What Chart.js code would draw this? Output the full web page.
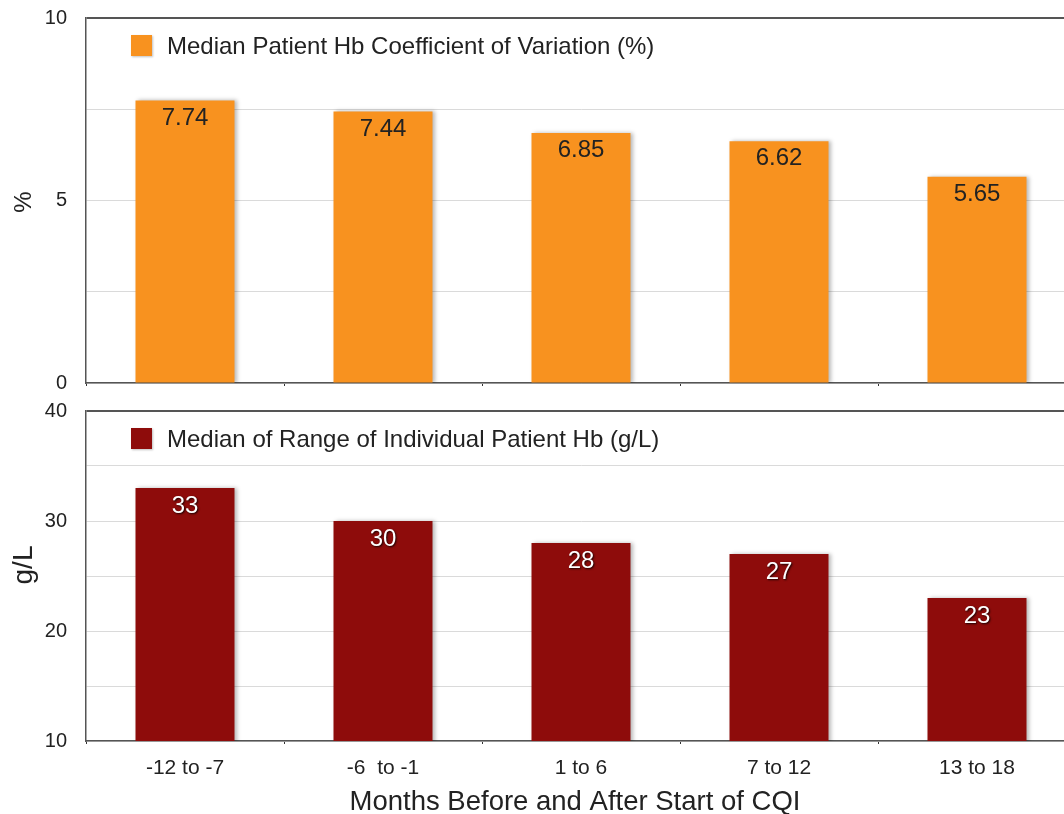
<!DOCTYPE html>
<html><head><meta charset="utf-8">
<script src="https://cdn.jsdelivr.net/npm/chart.js@4.4.1/dist/chart.umd.min.js"></script>
<style>
html,body{margin:0;padding:0;background:#fff;overflow:hidden;width:1064px;height:814px;}
#wrap{position:relative;width:1064px;height:814px;overflow:hidden;background:#fff;}
canvas{position:absolute;left:0;}
#c1{top:0;} #c2{top:395px;}
</style></head><body>
<div id="wrap"><canvas id="c1" width="1080" height="395"></canvas><canvas id="c2" width="1080" height="419"></canvas></div>
<script>
const categories = ['-12 to -7', '-6  to -1', '1 to 6', '7 to 12', '13 to 18'];
const cvValues = [7.74, 7.44, 6.85, 6.62, 5.65];
const cvLabels = ['7.74', '7.44', '6.85', '6.62', '5.65'];
const rangeValues = [33, 30, 28, 27, 23];
const rangeLabels = ['33', '30', '28', '27', '23'];
const topTickLabels = [0, 5, 10];
const bottomTickLabels = [10, 20, 30, 40];
const topLegend = 'Median Patient Hb Coefficient of Variation (%)';
const bottomLegend = 'Median of Range of Individual Patient Hb (g/L)';
const topYTitle = '%';
const bottomYTitle = 'g/L';
const xTitle = 'Months Before and After Start of CQI';

const FAM = '"Liberation Sans", Arial, Helvetica, sans-serif';
const ORANGE = '#F8921F';
const DARKRED = '#8E0C0B';

const shadowPlugin = {
  id: 'barShadow',
  beforeDatasetsDraw(chart) {
    const ctx = chart.ctx; ctx.save();
    ctx.shadowColor = 'rgba(0,0,0,0.28)'; ctx.shadowBlur = 4; ctx.shadowOffsetX = 2; ctx.shadowOffsetY = 0;
  },
  afterDatasetsDraw(chart) { chart.ctx.restore(); }
};

function makeDecor(opts) {
  return {
    id: 'decor_' + opts.name,
    afterDatasetsDraw(chart) {
      const ctx = chart.ctx, ca = chart.chartArea;
      const meta = chart.getDatasetMeta(0);
      ctx.save();
      ctx.font = '24px ' + FAM; ctx.textAlign = 'center'; ctx.textBaseline = 'middle';
      meta.data.forEach((bar, i) => {
        if (opts.shadowText) {
          ctx.shadowColor = 'rgba(0,0,0,0.85)'; ctx.shadowBlur = 2; ctx.shadowOffsetX = 1; ctx.shadowOffsetY = 1;
        }
        ctx.fillStyle = opts.labelColor;
        ctx.fillText(opts.labels[i], bar.x, bar.y + opts.labelOffset);
      });
      ctx.restore();
      // legend
      ctx.save();
      ctx.shadowColor = 'rgba(0,0,0,0.25)'; ctx.shadowBlur = 2; ctx.shadowOffsetX = 1; ctx.shadowOffsetY = 1;
      ctx.fillStyle = opts.color;
      ctx.fillRect(ca.left + 45, ca.top + 17, 21, 21);
      ctx.restore();
      ctx.save();
      ctx.font = '24px ' + FAM; ctx.fillStyle = '#222'; ctx.textAlign = 'left'; ctx.textBaseline = 'middle';
      ctx.fillText(opts.legend, ca.left + 81, ca.top + 29);
      ctx.restore();
      // y title
      ctx.save();
      ctx.translate(24, opts.yTitleY);
      ctx.rotate(-Math.PI / 2);
      ctx.font = opts.yTitleSize + 'px ' + FAM; ctx.fillStyle = '#222'; ctx.textAlign = 'center'; ctx.textBaseline = 'middle';
      ctx.fillText(opts.yTitle, 0, 0);
      ctx.restore();
      if (opts.xTitle) {
        ctx.save();
        ctx.font = '27.5px ' + FAM; ctx.fillStyle = '#222'; ctx.textAlign = 'center'; ctx.textBaseline = 'middle';
        ctx.fillText(opts.xTitle, 575, chart.height - 12);
        ctx.restore();
      }
    }
  };
}

function gridColor(maxV) {
  return (c) => (c.tick && c.tick.value === maxV) ? '#555' : '#dadada';
}
function gridWidth(maxV) {
  return (c) => (c.tick && c.tick.value === maxV) ? 2 : 1;
}
function fixX(h) { return (s) => { s.height = h; s.paddingLeft = 0; s.paddingRight = 0; s.paddingTop = 0; s.paddingBottom = 0; }; }
function fixY(s) { s.width = 86; s.paddingTop = 0; s.paddingBottom = 0; s.paddingLeft = 0; s.paddingRight = 0; }

Chart.defaults.font.family = FAM;

new Chart(document.getElementById('c1'), {
  type: 'bar',
  data: { labels: categories, datasets: [{ data: cvValues, backgroundColor: ORANGE, barPercentage: 0.5, categoryPercentage: 1.0 }] },
  options: {
    responsive: false, animation: false, devicePixelRatio: 1,
    layout: { padding: { left: 0, right: 4, top: 18, bottom: 4 } },
    plugins: { legend: { display: false }, tooltip: { enabled: false } },
    scales: {
      x: {
        offset: true,
        afterFit: fixX(8),
        ticks: { display: false },
        grid: { offset: true, drawOnChartArea: false, tickLength: 3, tickColor: '#333' },
        border: { color: '#555', width: 1.5 }
      },
      y: {
        min: 0, max: 10,
        afterFit: fixY,
        ticks: { stepSize: 2.5, padding: 19, color: '#222', font: { size: 20 },
          callback: (v) => topTickLabels.includes(v) ? String(v) : '' },
        grid: { drawTicks: false, color: gridColor(10), lineWidth: gridWidth(10) },
        border: { color: '#555', width: 1.5 }
      }
    }
  },
  plugins: [shadowPlugin, makeDecor({ name: 'top', labels: cvLabels, labelColor: '#222', labelOffset: 17.5, shadowText: false, color: ORANGE, legend: topLegend, yTitle: topYTitle, yTitleY: 202, yTitleSize: 24 })]
});

new Chart(document.getElementById('c2'), {
  type: 'bar',
  data: { labels: categories, datasets: [{ data: rangeValues, backgroundColor: DARKRED, barPercentage: 0.5, categoryPercentage: 1.0 }] },
  options: {
    responsive: false, animation: false, devicePixelRatio: 1,
    layout: { padding: { left: 0, right: 4, top: 16, bottom: 0 } },
    plugins: { legend: { display: false }, tooltip: { enabled: false } },
    scales: {
      x: {
        offset: true,
        afterFit: fixX(73),
        ticks: { padding: 12, color: '#222', font: { size: 21 } },
        grid: { offset: true, drawOnChartArea: false, tickLength: 3, tickColor: '#333' },
        border: { color: '#555', width: 1.5 }
      },
      y: {
        min: 10, max: 40,
        afterFit: fixY,
        ticks: { stepSize: 5, padding: 19, color: '#222', font: { size: 20 },
          callback: (v) => bottomTickLabels.includes(v) ? String(v) : '' },
        grid: { drawTicks: false, color: gridColor(40), lineWidth: gridWidth(40) },
        border: { color: '#555', width: 1.5 }
      }
    }
  },
  plugins: [shadowPlugin, makeDecor({ name: 'bottom', labels: rangeLabels, labelColor: '#fff', labelOffset: 18.5, shadowText: true, color: DARKRED, legend: bottomLegend, yTitle: bottomYTitle, yTitleY: 565 - 395, yTitleSize: 28, xTitle: xTitle })]
});
</script>
</body></html>
